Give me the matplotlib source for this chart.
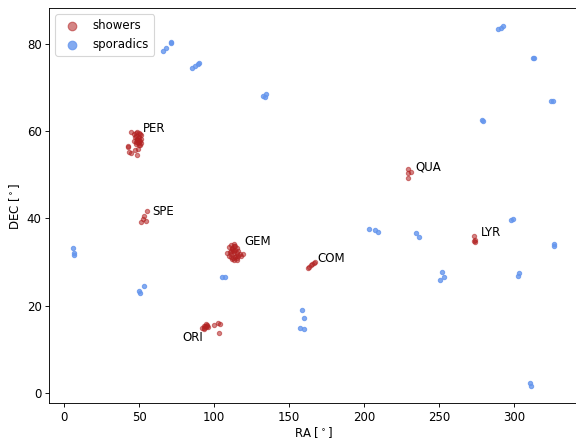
import numpy as np
import matplotlib
matplotlib.use("Agg")
import matplotlib.pyplot as plt

# sporadic meteors (RA, DEC)
spo_ra = [6.0, 6.2, 6.3, 66, 68, 71, 71.5, 85.5, 87.5, 89, 89.8,
          132.5, 134, 134.5, 289.5, 291, 292.5, 312.5, 313.5, 324.5, 326.3,
          278.5, 279, 203, 207.5, 209.5, 234.5, 236.5, 298, 299, 326.5, 327,
          252, 253, 250.5, 303.5, 302.5, 105.5, 107, 53.5, 50, 50.2,
          158.3, 159.7, 157.5, 159.7, 310.6, 311.3]
spo_dec = [33.3, 32.2, 31.7, 78.4, 79.0, 80.2, 80.4, 74.5, 75.0, 75.4, 75.7,
           68.1, 67.8, 68.6, 83.4, 83.6, 84.0, 76.8, 76.7, 67.0, 66.8,
           62.6, 62.3, 37.6, 37.4, 36.9, 36.7, 35.8, 39.7, 39.8, 33.8, 34.2,
           27.8, 26.6, 26.0, 27.5, 26.8, 26.5, 26.7, 24.5, 23.5, 22.9,
           19.0, 17.3, 14.9, 14.6, 2.3, 1.6]

# shower meteors (RA, DEC)
sho_ra = [
    # PER
    44.6, 46.5, 47.5, 48.5, 49.5, 50.5, 51.5, 47, 48, 49, 50, 51, 46.5, 47.5,
    48.5, 49.5, 50.5, 48, 49, 50, 51, 49.5, 48.2, 50.2,
    42.3, 43, 44.8, 48.5, 47, 49.2, 42.5,
    # SPE
    55, 53.5, 51.5, 54.5, 52.5,
    # GEM
    108.7, 110, 111, 112, 113, 114, 115, 116, 117, 110.5, 111.5, 112.5,
    113.5, 114.5, 115.5, 111, 112, 113, 114, 115, 112, 113, 114, 116,
    119, 118, 110, 112.5, 113.5, 115, 111.5,
    # COM
    162.5, 163.5, 164.5, 165.5, 166.5, 167.5,
    # ORI
    92, 93, 93.5, 94, 94.5, 95, 95.5, 96, 99.7, 102.4, 103.7, 103.5, 93, 94.8,
    # QUA
    229, 229.5, 231.5, 229.5,
    # LYR
    273, 274, 274, 273.5,
]
sho_dec = [
    # PER
    59.7, 59.3, 59.6, 59.8, 59.6, 59.3, 59.0, 58.6, 58.8, 58.5, 58.7, 58.2,
    57.8, 57.6, 57.9, 57.5, 57.8, 57.0, 57.2, 56.9, 57.3, 58.0, 58.3, 56.8,
    56.3, 55.3, 55.0, 54.6, 55.7, 55.9, 56.6,
    # SPE
    41.7, 40.6, 39.3, 39.4, 39.9,
    # GEM
    32.0, 33.5, 34.0, 33.2, 34.2, 33.8, 33.3, 32.5, 31.9, 32.3, 31.8, 32.8,
    32.0, 31.5, 31.0, 31.2, 30.8, 30.6, 31.3, 32.0, 33.0, 32.6, 32.9, 31.4,
    31.8, 31.5, 31.5, 30.9, 33.6, 30.5, 32.5,
    # COM
    28.7, 29.0, 29.3, 29.6, 29.9, 30.1,
    # ORI
    15.0, 15.3, 14.9, 15.4, 15.1, 15.7, 15.5, 15.2, 15.7, 16.1, 15.8, 13.9,
    14.8, 15.9,
    # QUA
    51.3, 50.4, 50.6, 49.3,
    # LYR
    36.1, 35.1, 34.6, 34.9,
]

labels = ["PER", "SPE", "GEM", "COM", "ORI", "QUA", "LYR"]
label_ra = [52.5, 58.5, 120, 168.5, 78.5, 234.5, 278]
label_dec = [60.7, 41.7, 34.7, 30.9, 12.7, 51.9, 36.8]

plt.rcParams["font.size"] = 10.6
fig, ax = plt.subplots(figsize=(7.2, 5.4875), dpi=80)
fig.subplots_adjust(left=0.0856, right=1.003, bottom=0.0813, top=0.981)

ax.scatter(sho_ra, sho_dec, s=15, color="firebrick", alpha=0.55,
           label="showers")
ax.scatter(spo_ra, spo_dec, s=15, color="cornflowerblue", alpha=0.8,
           label="sporadics")

for lab, x, y in zip(labels, label_ra, label_dec):
    ax.text(x, y, lab, va="center", ha="left")

ax.set_xlim(-10, 342.5)
ax.set_ylim(-2.3, 88.1)
ax.set_xticks([0, 50, 100, 150, 200, 250, 300])
ax.set_yticks([0, 20, 40, 60, 80])
ax.set_xlabel(r"RA [$^\circ$]", labelpad=0.5)
ax.set_ylabel(r"DEC [$^\circ$]")
ax.legend(loc="upper left", markerscale=2.0)

fig.savefig("out.png", dpi=80)
